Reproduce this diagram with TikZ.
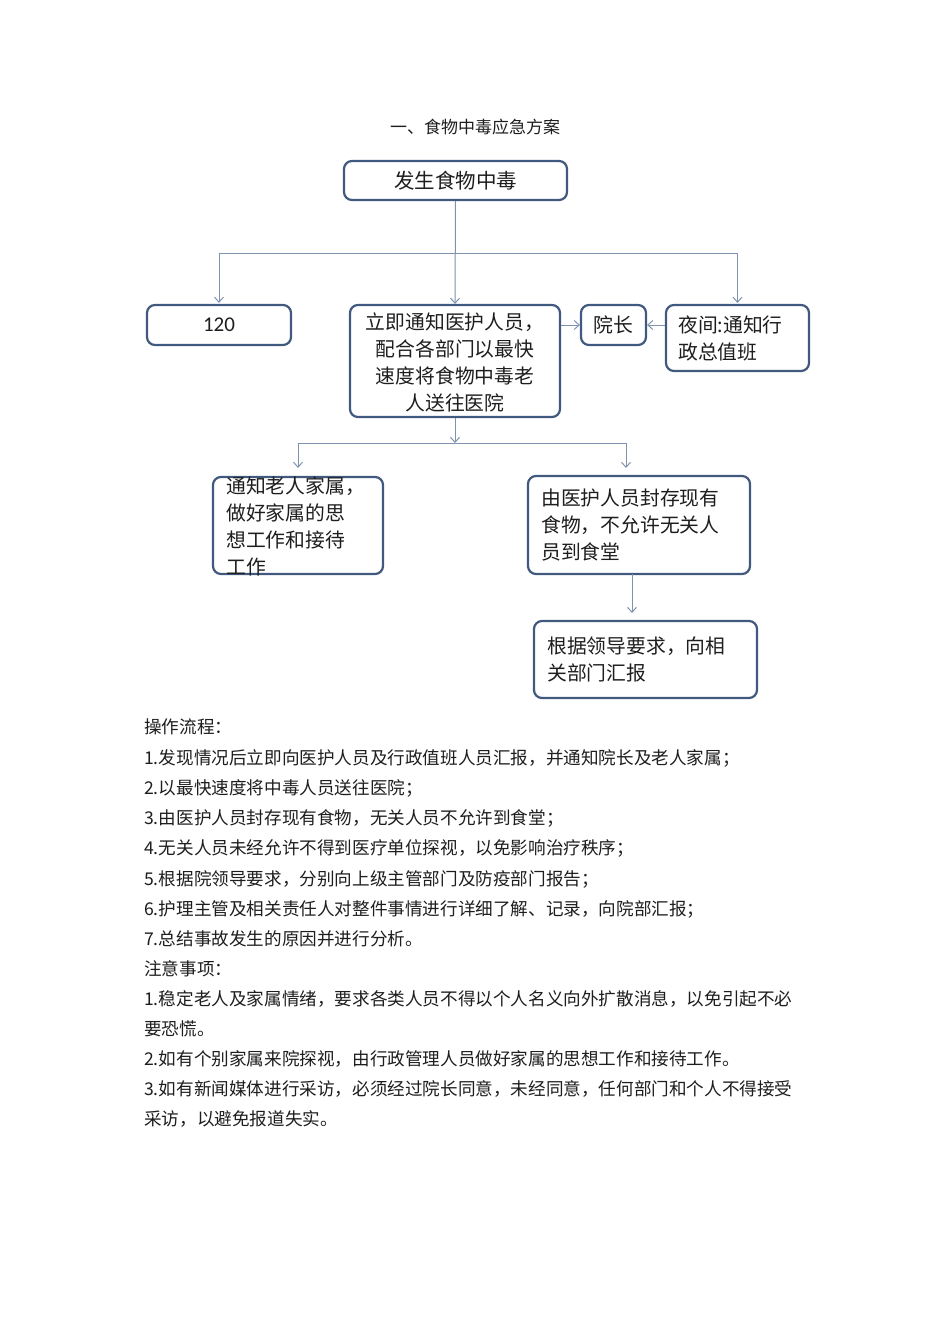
\documentclass[tikz,border=0pt]{standalone}
\usepackage{fontspec}
\setmainfont{Carlito}
\newfontfamily\cjk{Noto Sans CJK SC}
\newfontfamily\numfont{Carlito}
\usetikzlibrary{arrows.meta,calc}
\definecolor{boxline}{HTML}{41597F}
\definecolor{conn}{HTML}{8093AE}
\definecolor{txt}{HTML}{1E1E1E}
\tikzset{
  box/.style={draw=boxline,line width=2.2pt,rounded corners=8pt,fill=white,inner sep=0pt},
  arr/.style={draw=conn,line width=1pt,-{Straight Barb[length=5pt,width=9pt]}},
  ln/.style={draw=conn,line width=1pt},
  btxt/.style={text=txt,font=\cjk\fontsize{19.8}{27}\selectfont,inner sep=0pt},
  body/.style={text=txt,font=\cjk\fontsize{17.6}{20}\selectfont,anchor=west,inner sep=0pt}
}
\begin{document}
\begin{tikzpicture}[x=1pt,y=-1pt]
\useasboundingbox[fill=white] (0,0) rectangle (950,1344);

\node[text=txt,font=\cjk\fontsize{17}{20}\selectfont] (title) at (475,127) {一、食物中毒应急方案};

% boxes
\node[box,minimum width=223pt,minimum height=39pt] (top) at (455.5,180.5) {};
\node[btxt,font=\cjk\fontsize{20.5}{27}\selectfont] (toptxt) at (top) {发生食物中毒};

\node[box,minimum width=144pt,minimum height=40pt] (b120) at (219,325) {};
\node[text=txt,font=\numfont\fontsize{21}{24}\selectfont] (b120txt) at (b120) {120};

\node[box,minimum width=210pt,minimum height=112pt] (main) at (455,361) {};
\node[btxt,align=center] (maintxt) at (455,362) {立即通知医护人员，\\配合各部门以最快\\速度将食物中毒老\\人送往医院};

\node[box,minimum width=65pt,minimum height=40pt] (yz) at (613.5,325) {};
\node[btxt] (yztxt) at (yz) {院长};

\node[box,minimum width=143pt,minimum height=66pt] (night) at (737.5,338) {};
\node[btxt,align=left,anchor=west] (nighttxt) at (678,338) {夜间:通知行\\政总值班};

\node[box,minimum width=170pt,minimum height=97pt] (fam) at (298,525.5) {};
\node[btxt,align=left,anchor=west] (famtxt) at (226,526) {通知老人家属，\\做好家属的思\\想工作和接待\\工作};

\node[box,minimum width=222pt,minimum height=98pt] (seal) at (639,525) {};
\node[btxt,align=left,anchor=west] (sealtxt) at (541,525) {由医护人员封存现有\\食物，不允许无关人\\员到食堂};

\node[box,minimum width=223pt,minimum height=77pt] (rep) at (645.5,659.5) {};
\node[btxt,align=left,anchor=west] (reptxt) at (547,659.5) {根据领导要求，向相\\关部门汇报};

% connectors
\coordinate (j1) at (455,253);
\coordinate (j2) at (455,443);
\coordinate (sealin) at (626,476);
\coordinate (sealout) at (632,574);
\coordinate (repin) at (632,621);

\draw[arr] (top.south) -- (main.north);
\draw[arr,shorten >=1pt] (j1) -| (b120.north);
\draw[arr,shorten >=1pt] (j1) -| (night.north);
\draw[arr] (main.east |- yz.west) -- (yz.west);
\draw[arr] (night.west |- yz.east) -- (yz.east);
\draw[arr] (main.south) -- (j2);
\draw[arr,shorten >=8pt] (j2) -| (fam.north);
\draw[arr,shorten >=8pt] (j2) -| (sealin);
\draw[arr,shorten >=8pt] (sealout) -- (repin);

% body text
\node[body] (l1) at (144,727) {操作流程：};
\node[body] (l2) at (144,758) {1.发现情况后立即向医护人员及行政值班人员汇报，并通知院长及老人家属；};
\node[body] (l3) at (144,788) {2.以最快速度将中毒人员送往医院；};
\node[body] (l4) at (144,818) {3.由医护人员封存现有食物，无关人员不允许到食堂；};
\node[body] (l5) at (144,848) {4.无关人员未经允许不得到医疗单位探视，以免影响治疗秩序；};
\node[body] (l6) at (144,879) {5.根据院领导要求，分别向上级主管部门及防疫部门报告；};
\node[body] (l7) at (144,909) {6.护理主管及相关责任人对整件事情进行详细了解、记录，向院部汇报；};
\node[body] (l8) at (144,939) {7.总结事故发生的原因并进行分析。};
\node[body] (l9) at (144,969) {注意事项：};
\node[body] (l10) at (144,999) {1.稳定老人及家属情绪，要求各类人员不得以个人名义向外扩散消息，以免引起不必};
\node[body] (l11) at (144,1029) {要恐慌。};
\node[body] (l12) at (144,1059) {2.如有个别家属来院探视，由行政管理人员做好家属的思想工作和接待工作。};
\node[body] (l13) at (144,1089) {3.如有新闻媒体进行采访，必须经过院长同意，未经同意，任何部门和个人不得接受};
\node[body] (l14) at (144,1119) {采访，以避免报道失实。};
\end{tikzpicture}
\end{document}
